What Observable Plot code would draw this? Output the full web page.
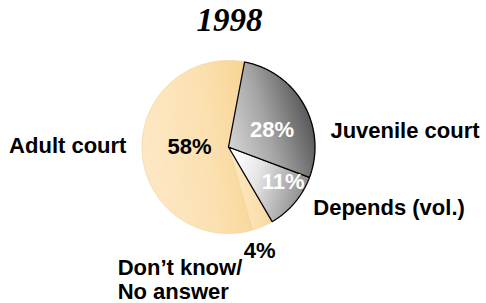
<!DOCTYPE html>
<html>
<head>
<meta charset="utf-8">
<script src="https://cdn.jsdelivr.net/npm/d3@7"></script>
<script src="https://cdn.jsdelivr.net/npm/@observablehq/plot@0.6"></script>
<style>
  html, body { margin: 0; padding: 0; background: #fff; }
  #chart svg { display: block; }
</style>
</head>
<body>
<div id="chart"></div>
<script>
// ---- data ----
const title = "1998";
const categories = ["Juvenile court", "Depends (vol.)", "Don’t know/\nNo answer", "Adult court"];
const values = [28, 11, 4, 58];
const valueLabels = ["28%", "11%", "4%", "58%"];

// ---- layout / style (not data) ----
const startDeg = 10.7;
const fills = ["url(#gJuv)", "url(#gDep)", "url(#gAdult)", "url(#gAdult)"];
const strokes = ["#000", "#000", "#f2d59c", "#f2d59c"];
const strokeWidths = [1.3, 1.3, 0.8, 0.8];
// value label placement: radius factor along mid-angle + pixel nudges, colour
const valueLayout = [
  {r: 0.55, dx: 2, dy: 6, fill: "#fff"},
  {r: 0.75, dx: 5, dy: -7, fill: "#fff"},
  {r: 1.15, dx: -8, dy: 12, fill: "#000"},
  {r: 0.45, dx: 0, dy: -2, fill: "#000"}
];
const nameLayout = [
  {r: 1.1, dx: 19, dy: 30, anchor: "start"},
  {r: 1.1, dx: 12, dy: -1, anchor: "start"},
  {r: 1.15, dx: -150, dy: 41, anchor: "start"},
  {r: 1.1, dx: -7, dy: -6, anchor: "end"}
];

const start = startDeg * Math.PI / 180;
const arcs = d3.pie().sort(null).startAngle(start).endAngle(start + 2 * Math.PI)(values);

// slice outlines (polygons through the centre) in unit-circle space
const slices = arcs.map((a, i) => {
  const pts = [{x: 0, y: 0}];
  const n = Math.max(2, Math.ceil((a.endAngle - a.startAngle) / (Math.PI / 360)));
  for (let k = 0; k <= n; k++) {
    const t = a.startAngle + (a.endAngle - a.startAngle) * k / n;
    pts.push({x: Math.sin(t), y: -Math.cos(t)});
  }
  pts.push({x: 0, y: 0});
  return pts;
});

const mid = a => (a.startAngle + a.endAngle) / 2;
const valueData = arcs.map((a, i) => ({
  label: valueLabels[i],
  x: Math.sin(mid(a)) * valueLayout[i].r,
  y: -Math.cos(mid(a)) * valueLayout[i].r,
  ...valueLayout[i]
}));
const nameData = arcs.map((a, i) => ({
  label: categories[i],
  x: Math.sin(mid(a)) * nameLayout[i].r,
  y: -Math.cos(mid(a)) * nameLayout[i].r,
  ...nameLayout[i]
}));

const sliceMarks = [2, 3, 1, 0].map(i =>
  Plot.line(slices[i], {x: "x", y: "y", fill: fills[i], stroke: strokes[i],
    strokeWidth: strokeWidths[i], strokeLinejoin: "miter", curve: "linear"})
);

const font = "Liberation Sans, Arial, Helvetica, sans-serif";
const textMarks = [];
valueData.forEach(d => textMarks.push(
  Plot.text([d], {x: "x", y: "y", text: "label", dx: d.dx, dy: d.dy, fill: d.fill,
    fontSize: 22, fontWeight: "bold", fontFamily: font, textAnchor: "middle"})
));
nameData.forEach(d => textMarks.push(
  Plot.text([d], {x: "x", y: "y", text: "label", dx: d.dx, dy: d.dy, fill: "#000",
    fontSize: 22, fontWeight: "bold", fontFamily: font, textAnchor: d.anchor, lineHeight: 1.1})
));

const chart = Plot.plot({
  width: 486,
  height: 303,
  margin: 0,
  x: {domain: [-1, 1], range: [141.5, 314.5], axis: null},
  y: {domain: [-1, 1], range: [60, 233], axis: null},
  marks: [
    ...sliceMarks,
    ...textMarks,
    Plot.text([title], {frameAnchor: "top", dx: -14, dy: 7, text: d => d, fontSize: 33,
      fontWeight: "bold", fontStyle: "italic", fill: "#000",
      fontFamily: "Liberation Serif, Times New Roman, serif", lineAnchor: "top"})
  ]
});

const svg = d3.select(chart);
const defs = svg.insert("defs", ":first-child");
function lin(id, stops, x1, y1, x2, y2) {
  const g = defs.append("linearGradient").attr("id", id)
    .attr("x1", x1).attr("y1", y1).attr("x2", x2).attr("y2", y2);
  stops.forEach(([o, c]) => g.append("stop").attr("offset", o).attr("stop-color", c));
}
lin("gJuv", [[0, "#d6d6d6"], [0.45, "#a4a4a4"], [1, "#4a4a4a"]], 0, 0.75, 1, 0.35);
lin("gDep", [[0, "#ffffff"], [0.35, "#e6e6e6"], [1, "#858585"]], 0, 0.3, 1, 0.6);
lin("gAdult", [[0, "#fde8c6"], [0.6, "#fbe0b0"], [1, "#f8d594"]], 0, 0.6, 1, 0.4);

document.getElementById("chart").appendChild(chart);
</script>
</body>
</html>
